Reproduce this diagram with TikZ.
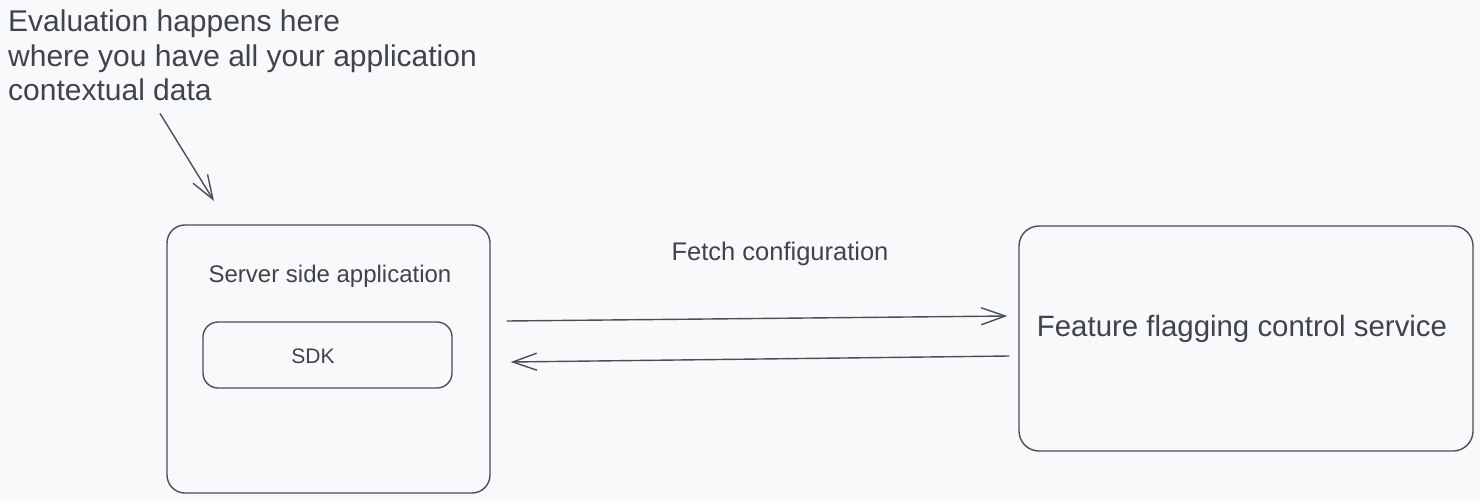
\documentclass[tikz,border=0pt]{standalone}
\usepackage{fontspec}
\setmainfont{Liberation Sans}
\usetikzlibrary{arrows.meta,calc}
\definecolor{bg}{HTML}{F8F9FA}
\definecolor{ink}{HTML}{4A4F56}
\definecolor{txt}{HTML}{3F444A}
\tikzset{
  box/.style={draw=ink, line width=1.4pt, rounded corners=18pt, inner sep=0pt},
  lbl/.style={text=txt, inner sep=0pt},
  arr/.style={draw=ink, line width=1.4pt, -{Straight Barb[length=24pt,width=17pt,line width=1.4pt]}},
}
\begin{document}
\begin{tikzpicture}[x=1pt,y=-1pt]
  \fill[bg] (0,0) rectangle (1480,501);
  \useasboundingbox (0,0) rectangle (1480,501);

  % note text
  \node[lbl, anchor=north west, align=left, font=\fontsize{30}{34.5}\selectfont] (note) at (8,10)
    {Evaluation happens here\\where you have all your application\\contextual data};

  % server box
  \node[box, minimum width=323pt, minimum height=268pt] (server) at (328.5,359) {};
  \node[lbl, font=\fontsize{24}{28}\selectfont] (serverlabel) at (330,276) {Server side application};
  \node[box, rounded corners=15pt, minimum width=249pt, minimum height=66pt] (sdk) at (327.5,355) {};
  \node[lbl, font=\fontsize{21}{25}\selectfont] (sdklabel) at (313,356) {SDK};

  % feature service
  \node[box, rounded corners=20pt, minimum width=454pt, minimum height=225pt] (feature) at (1246,338.5) {};
  \node[lbl, font=\fontsize{29.4}{34}\selectfont] (featurelabel) at (1242,329) {Feature flagging control service};

  % fetch label
  \node[lbl, font=\fontsize{25.5}{30}\selectfont] (fetch) at (780,254) {Fetch configuration};

  % connectors
  \draw[arr] ($(server.east)+(16,-38)$) -- ($(feature.west)+(-11,-22.5)$);
  \draw[arr] ($(feature.west)+(-9,17.5)$) -- ($(server.east)+(20,3)$);

  \coordinate (nhead) at (214,201);
  \draw[arr] ($(note.south west)+(152,12)$) -- (nhead);
\end{tikzpicture}
\end{document}
